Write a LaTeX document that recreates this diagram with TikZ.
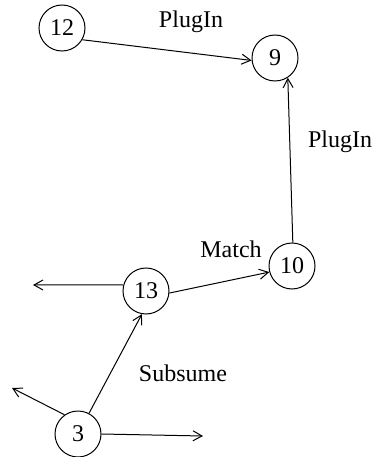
\documentclass[tikz,border=0pt]{standalone}
\usepackage{fontspec}
\setmainfont{Liberation Serif}
\usetikzlibrary{arrows.meta}
\tikzset{
    x={1pt},
    y={-1pt},
    service/.style={
        circle, draw=black,
        line width={1pt},
        minimum size={46},
        inner sep=0pt,
        font={\fontsize{24}{28}\selectfont},
    },
    relation/.style={
        draw=black,
        line width={1pt},
        -{Straight Barb[length=9pt,width=10pt]},
    },
    relation label/.style={
        font={\fontsize{24}{28}\selectfont},
        inner sep=0pt,
    },
}

\begin{document}
\begin{tikzpicture}
\useasboundingbox (0,0) rectangle (374,457);
% services
\node[service] (s12) at (62,28) {12};
\node[service] (s9) at (275,58) {9};
\node[service] (s10) at (292,266) {10};
\node[service] (s13) at (146,291) {13};
\node[service] (s3) at (78,434) {3};
% free ends
\coordinate (left13) at (33,285);
\coordinate (left3) at (12,388);
\coordinate (right3) at (203,436);
% relations
\draw[relation] (s12.-30) -- (s9.186);
\draw[relation] (s10.88) -- (s9.-57);
\draw[relation] (s13.-5) -- (s10.195);
\draw[relation] (s13.165) -- (left13);
\draw[relation] (s3.62) -- (s13.-100);
\draw[relation] (s3.125) -- (left3);
\draw[relation] (s3.east) -- (right3);
% labels
\node[relation label] (plugin top) at (191,22) {PlugIn};
\node[relation label] (plugin right) at (340,142) {PlugIn};
\node[relation label] (match) at (231,249) {Match};
\node[relation label] (subsume) at (183,373) {Subsume};
\end{tikzpicture}
\end{document}
